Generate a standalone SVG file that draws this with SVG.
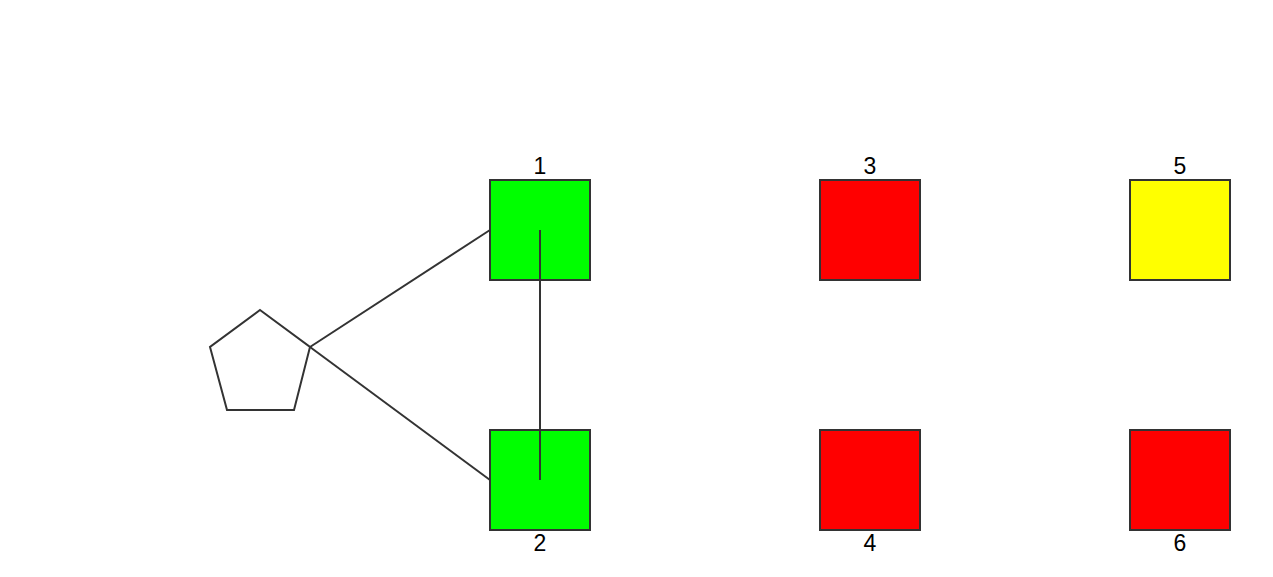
<svg xmlns="http://www.w3.org/2000/svg" width="1273" height="577" viewBox="0 0 1273 577">
<style>
.n{stroke:#333;stroke-width:2}
.l{font-family:"Liberation Sans",Arial,sans-serif;font-size:23px;fill:#000;text-anchor:middle}
.e{stroke:#333;stroke-width:2;fill:none}
</style>
<rect width="1273" height="577" fill="#fff"/>
<g id="pentagon"><polygon class="n" fill="#fff" points="260,310 310,347 294,410 227,410 210,347"/></g>
<g id="node1"><rect class="n" fill="#00ff00" x="490" y="180" width="100" height="100"/><text class="l" x="540" y="174">1</text></g>
<g id="node2"><rect class="n" fill="#00ff00" x="490" y="430" width="100" height="100"/><text class="l" x="540" y="551">2</text></g>
<g id="node3"><rect class="n" fill="#ff0000" x="820" y="180" width="100" height="100"/><text class="l" x="870" y="174">3</text></g>
<g id="node4"><rect class="n" fill="#ff0000" x="820" y="430" width="100" height="100"/><text class="l" x="870" y="551">4</text></g>
<g id="node5"><rect class="n" fill="#ffff00" x="1130" y="180" width="100" height="100"/><text class="l" x="1180" y="174">5</text></g>
<g id="node6"><rect class="n" fill="#ff0000" x="1130" y="430" width="100" height="100"/><text class="l" x="1180" y="551">6</text></g>
<g id="connectors">
<line class="e" x1="310" y1="347" x2="490" y2="230"/>
<line class="e" x1="310" y1="347" x2="490" y2="480"/>
<line class="e" x1="540" y1="230" x2="540" y2="480"/>
</g>
</svg>
